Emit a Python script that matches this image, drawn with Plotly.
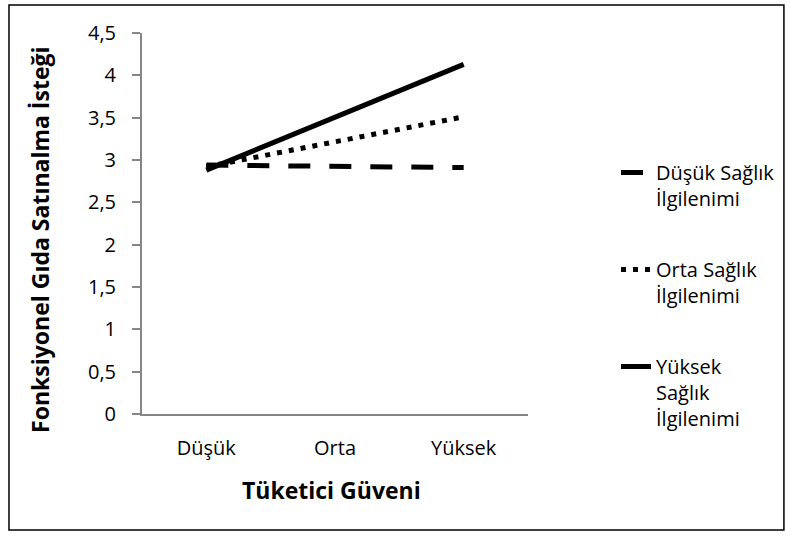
import plotly.graph_objects as go

categories = ["Düşük", "Orta", "Yüksek"]
dusuk_ilgi = [2.94, 2.93, 2.91]
orta_ilgi = [2.92, 3.22, 3.51]
yuksek_ilgi = [2.88, 3.51, 4.13]
series_names = ["Düşük Sağlık<br>İlgilenimi", "Orta Sağlık<br>İlgilenimi", "Yüksek<br>Sağlık<br>İlgilenimi"]
y_ticks = [0, 0.5, 1, 1.5, 2, 2.5, 3, 3.5, 4, 4.5]

FONT = "Open Sans"
AX = "#868686"

fig = go.Figure()
styles = [
    dict(color="black", width=5, dash="22px,19px"),
    dict(color="black", width=5, dash="5px,7px"),
    dict(color="black", width=5, dash="solid"),
]
for i, (vals, name, st) in enumerate(zip([dusuk_ilgi, orta_ilgi, yuksek_ilgi], series_names, styles)):
    fig.add_trace(go.Scatter(x=categories, y=vals, mode="lines", name=name,
                             line=st, legendgroup=f"g{i}", hoverinfo="skip"))

fig.update_layout(
    width=790, height=539, autosize=False,
    margin=dict(l=142, r=262, t=33, b=125, autoexpand=False),
    paper_bgcolor="white", plot_bgcolor="white",
    separators=", ",
    font=dict(family=FONT, size=20, color="black"),
    showlegend=True,
    legend=dict(x=1.228, y=0.685, xanchor="left", yanchor="top",
                valign="top", tracegroupgap=42, traceorder="grouped",
                font=dict(family=FONT, size=20, color="black"),
                bgcolor="rgba(0,0,0,0)"),
    xaxis=dict(type="category", range=[-0.5, 2.5], showline=True, linecolor=AX,
               linewidth=2, ticks="", showgrid=False, zeroline=False,
               ticklabelstandoff=15, tickfont=dict(size=20)),
    yaxis=dict(range=[0, 4.5], tickvals=y_ticks, showline=True, linecolor=AX,
               linewidth=2, ticks="outside", ticklen=8, tickcolor=AX, tickwidth=2,
               showgrid=False, zeroline=False, ticklabelstandoff=12,
               tickfont=dict(size=20)),
    annotations=[
        dict(text="<b>Tüketici Güveni</b>", xref="paper", yref="paper",
             x=0.492, y=-0.2, xanchor="center", yanchor="middle",
             showarrow=False, font=dict(size=23)),
        dict(text="<b>Fonksiyonel Gıda Satınalma İsteği</b>", xref="paper", yref="paper",
             x=-0.264, y=0.457, xanchor="center", yanchor="middle", textangle=-90,
             showarrow=False, font=dict(size=23)),
    ],
    shapes=[dict(type="rect", xref="paper", yref="paper",
                 x0=-0.3446, x1=1.663, y0=-0.3045, y1=1.0735,
                 line=dict(color="black", width=1.5), layer="below")],
)

fig.write_html("out.html", config={"displayModeBar": False},
               post_script="document.body.style.margin='0';")
